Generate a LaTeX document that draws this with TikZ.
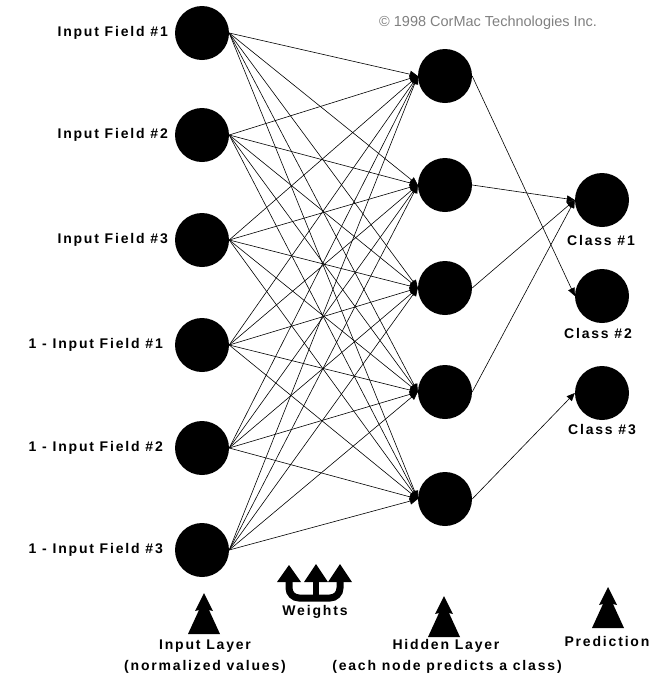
\documentclass[tikz,border=0pt]{standalone}
\usepackage{fontspec}
\setmainfont{Liberation Sans}
\newfontfamily\lbl[LetterSpace=13]{Liberation Sans}
\usetikzlibrary{arrows.meta}
\tikzset{
  neuron/.style={circle, fill=black, draw=none, minimum size=54pt, inner sep=0pt},
  lab/.style={font=\lbl\bfseries\fontsize{14pt}{16pt}\selectfont, inner sep=0pt},
  conn/.style={line width=0.6pt, -{Triangle[length=8pt,width=7pt]}},
  treeup/.pic={\fill (0,0) -- (9,18) -- (5,17) -- (16,41) -- (-16,41) -- (-5,17) -- (-9,18) -- cycle;},
}
\begin{document}
\begin{tikzpicture}[x=1pt,y=-1pt]
\useasboundingbox (0,0) rectangle (659,678);
% copyright
\node[font=\fontsize{14.5pt}{17pt}\selectfont, text=black!50, anchor=west, inner sep=0pt] (copy) at (379,23) {© 1998 CorMac Technologies Inc.};
% input layer
\foreach \i/\y in {1/33,2/135,3/240,4/345,5/448,6/550}{
  \node[neuron] (i\i) at (202,\y) {};
}
\node[lab, anchor=east] (l1) at (168,33) {Input Field \#1};
\node[lab, anchor=east] (l2) at (168,135) {Input Field \#2};
\node[lab, anchor=east] (l3) at (168,240) {Input Field \#3};
\node[lab, anchor=east] (l4) at (163,345) {1 - Input Field \#1};
\node[lab, anchor=east] (l5) at (163,448) {1 - Input Field \#2};
\node[lab, anchor=east] (l6) at (163,550) {1 - Input Field \#3};
% hidden layer
\foreach \j/\y in {1/76,2/185,3/288,4/392,5/499}{
  \node[neuron] (h\j) at (445,\y) {};
}
% output layer
\node[neuron] (o1) at (602,200) {};
\node[neuron] (o2) at (602,296) {};
\node[neuron] (o3) at (602,393) {};
\node[lab] (c1) at (601,240) {Class \#1};
\node[lab] (c2) at (598,333) {Class \#2};
\node[lab] (c3) at (602,429) {Class \#3};
% connections input -> hidden
\foreach \i in {1,...,6}{
  \foreach \j in {1,...,5}{
    \draw[conn] (i\i.east) -- (h\j.west);
  }
}
% hidden -> output
\draw[conn] (h1.east) -- (o2.west);
\draw[conn] (h2.east) -- (o1.west);
\draw[conn] (h3.east) -- (o1.west);
\draw[conn] (h4.east) -- (o1.west);
\draw[conn] (h5.east) -- (o3.west);
% bottom markers
\pic at (204,593) {treeup};
\pic at (444,596) {treeup};
\pic at (608,587) {treeup};
\node[lab] (tin1) at (205,646) {Input Layer};
\node[lab] (tin2) at (205,667) {(normalized values)};
\node[lab] (thid1) at (446,646) {Hidden Layer};
\node[lab] (thid2) at (447,667) {(each node predicts a class)};
\node[lab] (tpred) at (607,641) {Prediction};
% weights icon
\draw[line width=7pt, rounded corners=10pt] (289,579) -- (289,598) -- (340,598) -- (340,579);
\draw[line width=6pt] (316,579) -- (316,598);
\fill (277,582) -- (289,565) -- (301,582) -- cycle;
\fill (304,582) -- (316,564) -- (328,582) -- cycle;
\fill (328,582) -- (340,564) -- (352,582) -- cycle;
\node[lab] (wt) at (315,612) {Weights};
\end{tikzpicture}
\end{document}
